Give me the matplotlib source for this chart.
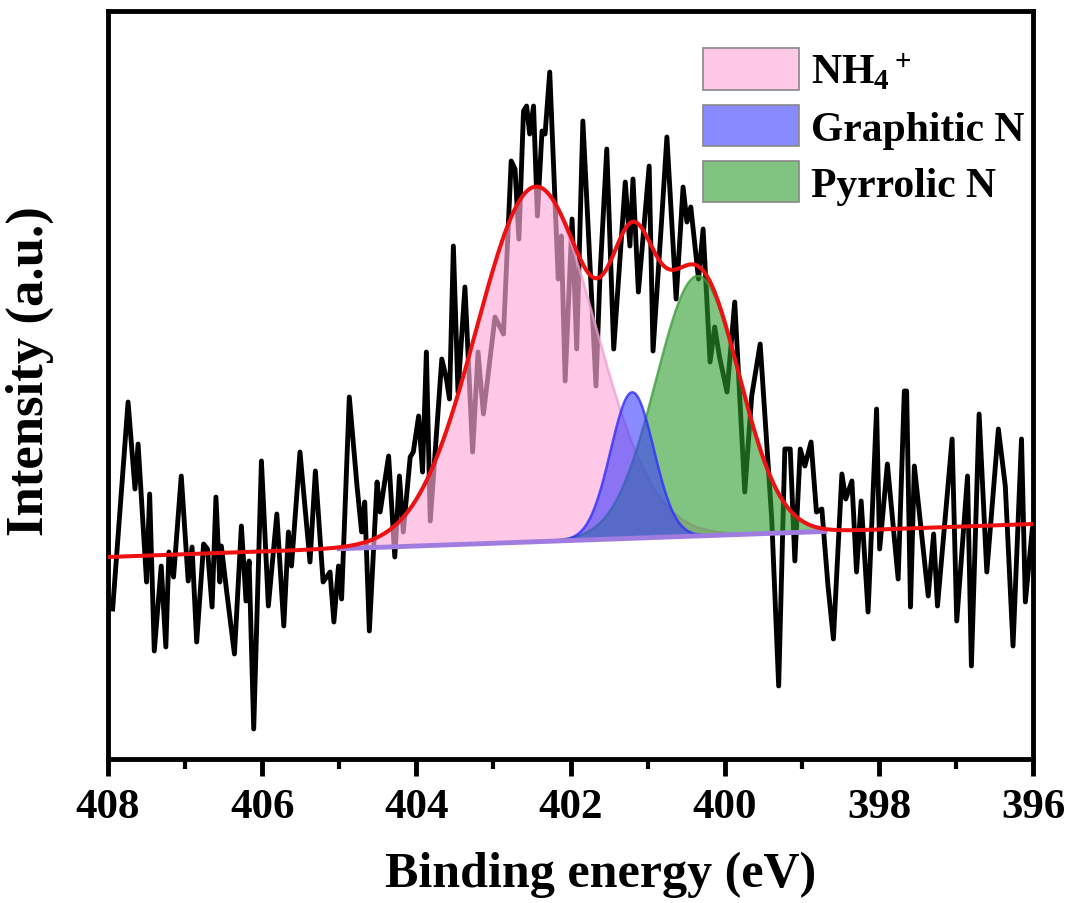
import numpy as np
import matplotlib
matplotlib.use('Agg')
import matplotlib.pyplot as plt

plt.rcParams['font.family'] = 'Liberation Serif'
plt.rcParams['font.weight'] = 'bold'
plt.rcParams['mathtext.fontset'] = 'custom'
plt.rcParams['mathtext.rm'] = 'Liberation Serif:bold'
plt.rcParams['mathtext.it'] = 'Liberation Serif:bold'
plt.rcParams['mathtext.bf'] = 'Liberation Serif:bold'

# measured N 1s spectrum (binding energy in eV, intensity in a.u.)
energy = [407.94, 407.74, 407.65, 407.61, 407.50, 407.46, 407.40, 407.31, 407.25, 407.21,
          407.15, 407.05, 406.96, 406.91, 406.85, 406.76, 406.71, 406.65, 406.60, 406.55,
          406.53, 406.46, 406.36, 406.27, 406.21, 406.17, 406.11, 406.01, 405.92, 405.81,
          405.72, 405.66, 405.62, 405.51, 405.38, 405.31, 405.21, 405.12, 405.07, 405.01,
          404.97, 404.87, 404.77, 404.71, 404.67, 404.61, 404.51, 404.47, 404.36, 404.28,
          404.22, 404.17, 404.08, 404.04, 403.97, 403.92, 403.87, 403.82, 403.67, 403.61,
          403.57, 403.52, 403.46, 403.37, 403.27, 403.20, 403.13, 402.98, 402.87, 402.77,
          402.72, 402.67, 402.61, 402.57, 402.53, 402.48, 402.43, 402.37, 402.33, 402.27,
          402.16, 402.12, 402.07, 401.98, 401.92, 401.84, 401.67, 401.62, 401.53, 401.44,
          401.29, 401.23, 401.19, 401.12, 400.98, 400.93, 400.82, 400.75, 400.63, 400.54,
          400.49, 400.44, 400.34, 400.28, 400.19, 400.13, 400.07, 399.97, 399.87, 399.74,
          399.65, 399.54, 399.39, 399.30, 399.22, 399.15, 399.09, 399.02, 398.96, 398.88,
          398.81, 398.74, 398.66, 398.59, 398.48, 398.43, 398.35, 398.29, 398.23, 398.14,
          398.03, 397.99, 397.89, 397.75, 397.67, 397.64, 397.59, 397.54, 397.36, 397.29,
          397.24, 397.05, 396.99, 396.85, 396.80, 396.70, 396.60, 396.45, 396.36, 396.26,
          396.15, 396.10, 396.01]
intensity = [150, 357, 270, 315, 177, 265, 108, 193, 112, 207,
             182, 283, 178, 212, 117, 215, 210, 152, 262, 177,
             213, 167, 105, 233, 158, 198, 30, 298, 153, 245,
             133, 227, 193, 307, 197, 288, 177, 187, 137, 193,
             160, 362, 273, 227, 257, 128, 277, 247, 303, 202,
             283, 227, 302, 307, 343, 287, 407, 238, 400, 380,
             360, 513, 367, 472, 307, 407, 345, 442, 425, 598,
             590, 520, 648, 653, 625, 653, 543, 628, 625, 687,
             480, 523, 378, 540, 410, 638, 373, 480, 610, 410,
             577, 513, 580, 467, 593, 408, 537, 622, 460, 572,
             537, 552, 480, 530, 397, 432, 403, 367, 457, 267,
             363, 415, 240, 73, 310, 310, 198, 310, 293, 317,
             247, 250, 173, 120, 285, 260, 278, 187, 258, 147,
             350, 210, 295, 180, 368, 368, 152, 293, 163, 225,
             153, 320, 138, 283, 93, 345, 187, 330, 273, 113,
             320, 157, 230]

# fitted components (gaussian): centre, height, sigma
names = ['NH$_4$$^+$', 'Graphitic N', 'Pyrrolic N']
centers = [402.45, 401.20, 400.35]
heights = [355, 146, 260]
sigmas = [0.77, 0.28, 0.54]
fill_colors = ['#ffabd9', '#3d3dff', '#2e9e2e']
edge_colors = ['#f0a0d0', '#3030ff', '#40a040']
fill_alpha = [0.65, 0.6, 0.6]
draw_order = [2, 4, 3]

# linear background (value at 408 eV and at 396 eV)
bg_ends = [202, 235]

fig = plt.figure(figsize=(10.77, 9.04), dpi=100)
ax = fig.add_axes([0.1003, 0.1593, 0.8589, 0.8274])

ax.plot(energy, intensity, color='black', lw=3.5, zorder=1)

x_full = np.linspace(408, 396, 1200)
bg_full = np.interp(x_full, [396, 408], bg_ends[::-1])
x_comp = np.linspace(405.0, 398.7, 800)
bg_comp = np.interp(x_comp, [396, 408], bg_ends[::-1])

envelope = bg_full.copy()
handles = []
for n, c, h, s, fc, ec, a, z in zip(names, centers, heights, sigmas, fill_colors,
                                   edge_colors, fill_alpha, draw_order):
    peak = h * np.exp(-(x_comp - c) ** 2 / (2 * s ** 2))
    envelope += h * np.exp(-(x_full - c) ** 2 / (2 * s ** 2))
    poly = ax.fill_between(x_comp, bg_comp, bg_comp + peak, facecolor=fc, alpha=a,
                           edgecolor='none', zorder=z, label=n)
    ax.plot(x_comp, bg_comp + peak, color=ec, lw=1.8, alpha=0.8, zorder=z)
    handles.append(poly)

ax.plot(x_comp, bg_comp, color='#a07ce0', lw=3.5, zorder=5)
ax.plot(x_full, envelope, color='#ee1111', lw=2.9, zorder=6)

ax.set_xlim(408, 396)
ax.set_ylim(0, 748)
ax.set_xticks(np.arange(408, 395, -2))
ax.set_xticks(np.arange(407, 396, -2), minor=True)
ax.set_yticks([])
ax.tick_params(axis='x', which='major', direction='out', length=12, width=3.5,
               labelsize=31, pad=9)
ax.tick_params(axis='x', which='minor', direction='out', length=7, width=3)
for sp in ax.spines.values():
    sp.set_linewidth(3.5)

ax.set_xlabel('Binding energy (eV)', fontsize=36, fontweight='bold')
ax.set_ylabel('Intensity (a.u.)', fontsize=38, fontweight='bold')
ax.xaxis.set_label_coords(0.532, -0.122)
ax.yaxis.set_label_coords(-0.058, 0.52)

leg = ax.legend(handles=handles, loc='upper left', bbox_to_anchor=(0.643, 0.95),
                frameon=False, fontsize=30, handlelength=2.3, handleheight=1.15,
                handletextpad=0.3, labelspacing=0.3, borderpad=0, borderaxespad=0)
for p in leg.get_patches():
    p.set_edgecolor('#888888')
    p.set_linewidth(1.2)

fig.savefig('out.png', dpi=100)
